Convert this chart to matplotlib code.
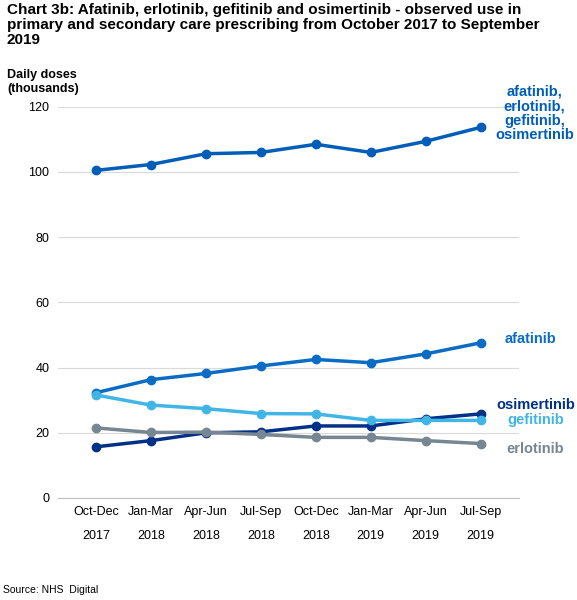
import numpy as np
import matplotlib.pyplot as plt

plt.rcParams.update({'font.family': ['Liberation Sans', 'DejaVu Sans'], 'font.size': 9})

quarters = ["Oct-Dec\n\n2017", "Jan-Mar\n\n2018", "Apr-Jun\n\n2018", "Jul-Sep\n\n2018",
            "Oct-Dec\n\n2018", "Jan-Mar\n\n2019", "Apr-Jun\n\n2019", "Jul-Sep\n\n2019"]
total = [100.5, 102.3, 105.6, 106.0, 108.5, 106.0, 109.4, 113.7]
afatinib = [32.3, 36.3, 38.2, 40.5, 42.5, 41.5, 44.2, 47.6]
osimertinib = [15.7, 17.6, 20.0, 20.3, 22.1, 22.1, 24.3, 25.8]
gefitinib = [31.6, 28.5, 27.4, 25.9, 25.8, 23.8, 23.8, 23.8]
erlotinib = [21.5, 20.1, 20.2, 19.5, 18.6, 18.6, 17.6, 16.7]

series = [
    (total, '#005EB8', "afatinib,\nerlotinib,\ngefitinib,\nosimertinib", 118.0, 7.98),
    (afatinib, '#0A6CC4', "afatinib", 48.8, 7.9),
    (osimertinib, '#003087', "osimertinib", 28.5, 8.0),
    (gefitinib, '#41B6E6', "gefitinib", 23.8, 8.0),
    (erlotinib, '#768692', "erlotinib", 15.0, 8.0),
]

fig = plt.figure(figsize=(5.77, 6), dpi=100)
ax = fig.add_axes([0.0997, 0.17, 0.8, 0.652])
x = np.arange(len(quarters))
for vals, col, lab, ly, lx in series:
    ax.plot(x, vals, color=col, lw=2.5, marker='o', ms=6)
    ax.text(lx, ly, lab, color=col, fontsize=10.5, fontweight='bold',
            ha='center', va='center', multialignment='center', linespacing=1.05)

ax.set_xlim(-0.7, 7.7)
ax.set_ylim(0, 120)
ax.set_yticks(range(0, 121, 20))
ax.set_xticks(x)
ax.set_xticklabels(quarters, fontsize=9, linespacing=1.0)
ax.grid(axis='y', color='#d9d9d9', lw=0.8)
ax.set_axisbelow(True)
for s in ['top', 'right', 'left']:
    ax.spines[s].set_visible(False)
ax.spines['bottom'].set_color('#bfbfbf')
ax.tick_params(axis='both', length=0, pad=6)

fig.text(0.012, 0.995, "Chart 3b: Afatinib, erlotinib, gefitinib and osimertinib - observed use in\n"
         "primary and secondary care prescribing from October 2017 to September\n2019",
         fontsize=11, fontweight='bold', va='top', linespacing=1.1)
fig.text(0.012, 0.885, "Daily doses\n(thousands)", fontsize=9, fontweight='bold', va='top')
fig.text(0.005, 0.012, "Source: NHS  Digital", fontsize=7.5)
fig.savefig('out.png', dpi=100)
